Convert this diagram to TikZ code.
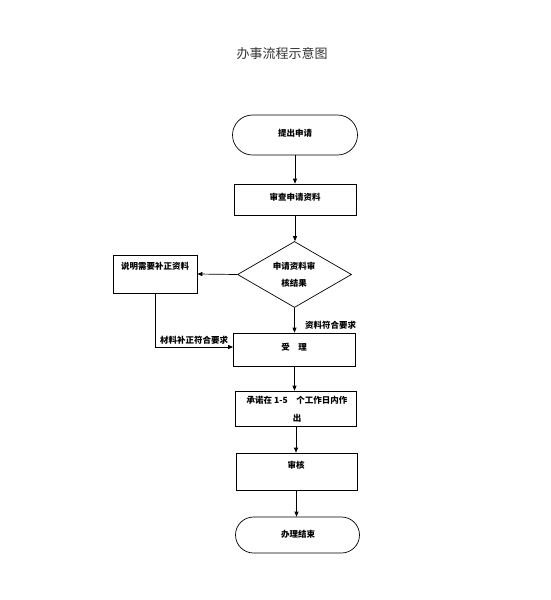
\documentclass[tikz,border=0pt]{standalone}
\usepackage{fontspec}
\newfontfamily\cjk{Noto Sans CJK SC}
\usetikzlibrary{arrows.meta,shapes.geometric}
\begin{document}
\begin{tikzpicture}[x=1pt,y=-1pt,
  every node/.style={font=\cjk\fontsize{8.5}{11}\selectfont\bfseries, inner sep=0pt},
  boxstyle/.style={draw, line width=0.7pt, rectangle},
  termstyle/.style={draw, line width=0.7pt, rectangle, rounded corners=18pt},
  arr/.style={line width=0.7pt, -{Triangle[length=5pt,width=4pt]}}]
\useasboundingbox (0,0) rectangle (551,600);
% title
\node[font=\cjk\fontsize{13}{15}\selectfont, text=black!80] (title) at (282,54) {办事流程示意图};
% shapes
\node[termstyle, minimum width=125pt, minimum height=40pt, rounded corners=20pt] (start) at (295,135) {};
\node (starttxt) at (295,133) {提出申请};
\node[boxstyle, minimum width=122pt, minimum height=31pt] (check) at (295,199.5) {};
\node (checktxt) at (295,197) {审查申请资料};
\node[draw, line width=0.7pt, diamond, aspect=1.73, minimum width=114pt, minimum height=66pt] (dec) at (294.5,274.5) {};
\node[align=center, font=\cjk\fontsize{8.5}{17}\selectfont\bfseries] (dectxt) at (294,275) {申请资料审\\核结果};
\node[boxstyle, minimum width=84pt, minimum height=38pt] (fix) at (155,274) {};
\node (fixtxt) at (155,266) {说明需要补正资料};
\node[boxstyle, minimum width=122pt, minimum height=33pt] (accept) at (294.5,349.5) {};
\node (accepttxt) at (294,347) {受\quad 理};
\node[boxstyle, minimum width=121pt, minimum height=35pt] (promise) at (296,408.5) {};
\node[align=center, font=\cjk\fontsize{8.5}{18}\selectfont\bfseries] (promisetxt) at (297,409) {承诺在 1-5\quad 个工作日内作\\出};
\node[boxstyle, minimum width=121pt, minimum height=37pt] (review) at (296.5,471.5) {};
\node (reviewtxt) at (296,465) {审核};
\node[termstyle, minimum width=124pt, minimum height=36pt, rounded corners=18pt] (end) at (297.5,535) {};
\node (endtxt) at (298,534) {办理结束};
% connectors
\draw[arr] (start.south) -- (start.south |- check.north);
\draw[arr] (check.south) -- (check.south |- dec.north);
\draw[arr] (dec.west) -- (fix.east);
\draw[arr] (dec.south) -- (dec.south |- accept.north);
\coordinate (corner) at (fix.south |- 0,347);
\draw[arr] (fix.south) -- (corner) -- (corner -| accept.west);
\draw[arr] (accept.south) -- (accept.south |- promise.north);
\draw[arr] (promise.south) -- (promise.south |- review.north);
\draw[arr] (review.south) -- (review.south |- end.north);
% labels
\node[anchor=west] (lblok) at (305,325) {资料符合要求};
\node (lblfix) at (194,340) {材料补正符合要求};
\end{tikzpicture}
\end{document}
